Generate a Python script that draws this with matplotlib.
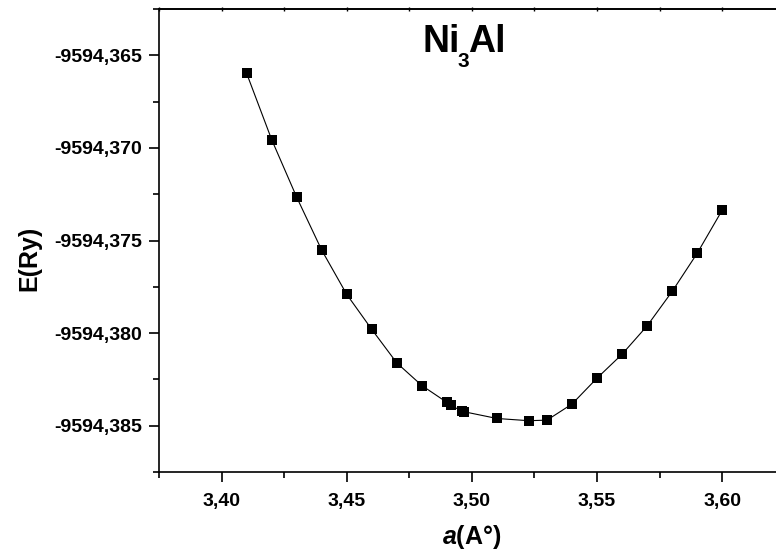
import matplotlib
matplotlib.use("Agg")
import matplotlib.pyplot as plt
from matplotlib.ticker import MultipleLocator, FuncFormatter

plt.rcParams['font.family'] = ['Liberation Sans', 'DejaVu Sans']
plt.rcParams['mathtext.fontset'] = 'custom'
plt.rcParams['mathtext.rm'] = 'Liberation Sans:bold'
plt.rcParams['mathtext.bf'] = 'Liberation Sans:bold'
plt.rcParams['mathtext.it'] = 'Liberation Sans:bold:italic'

# data
a_values = [3.41, 3.42, 3.43, 3.44, 3.45, 3.46, 3.47, 3.48, 3.49, 3.4915,
            3.4959, 3.497, 3.51, 3.5227, 3.53, 3.54, 3.55, 3.56, 3.57, 3.58,
            3.59, 3.60]
energy = [-9594.36597, -9594.36955, -9594.37266, -9594.37552, -9594.37791,
          -9594.37980, -9594.38161, -9594.38283, -9594.38374, -9594.38390,
          -9594.38420, -9594.38425, -9594.38461, -9594.38473, -9594.38470,
          -9594.38383, -9594.38243, -9594.38114, -9594.37961, -9594.37775,
          -9594.37569, -9594.37336]
x_label_text = r'$\mathit{a}$(A°)'
y_label_text = 'E(Ry)'
title_parts = ['Ni', '3', 'Al']

W, H = 776, 557
fig = plt.figure(figsize=(W / 100, H / 100), dpi=100)
left, right, top, bottom = 159, 784.8, 9, 472
ax = fig.add_axes([left / W, (H - bottom) / H, (right - left) / W, (bottom - top) / H])

ax.plot(a_values, energy, color='black', lw=0.8, marker='s', ms=6.8,
        mfc='black', mec='black', mew=0)

ax.set_xlim(3.375, 3.625)
ax.set_ylim(-9594.3875, -9594.3625)

ax.xaxis.set_major_locator(MultipleLocator(0.05))
ax.xaxis.set_minor_locator(MultipleLocator(0.025))
ax.yaxis.set_major_locator(MultipleLocator(0.005))
ax.yaxis.set_minor_locator(MultipleLocator(0.0025))
ax.xaxis.set_major_formatter(FuncFormatter(lambda v, p: f'{v:.2f}'.replace('.', ',')))
ax.yaxis.set_major_formatter(FuncFormatter(lambda v, p: f'{v:.3f}'.replace('.', ',')))

for s in ax.spines.values():
    s.set_linewidth(1.2)
ax.spines['right'].set_visible(False)

ax.tick_params(axis='both', which='major', direction='out', length=7, width=1.2,
               labelsize=14, top=False, right=False)
ax.tick_params(axis='both', which='minor', direction='out', length=4, width=1.2,
               top=False, right=False)
ax.tick_params(axis='y', which='major', pad=5)
ax.tick_params(axis='x', which='major', pad=8)
for lab in ax.get_xticklabels() + ax.get_yticklabels():
    lab.set_fontweight('bold')

sec = ax.secondary_xaxis('top')
sec.xaxis.set_major_locator(MultipleLocator(0.025))
sec.tick_params(direction='inout', length=3, width=1.0, labeltop=False)
sec.spines['top'].set_linewidth(1.2)

fig.text(472 / W, 1 - 537 / H, x_label_text, ha='center', va='center',
         fontsize=18, fontweight='bold')
fig.text(29 / W, 1 - 258 / H, y_label_text, ha='center', va='center',
         fontsize=18, fontweight='bold', rotation=90)

# title Ni3Al with a low subscript
fig.text(423 / W, 1 - 52 / H, title_parts[0], ha='left', va='baseline',
         fontsize=27, fontweight='bold')
fig.text(458 / W, 1 - 67 / H, title_parts[1], ha='left', va='baseline',
         fontsize=15, fontweight='bold')
fig.text(468 / W, 1 - 52 / H, title_parts[2], ha='left', va='baseline',
         fontsize=27, fontweight='bold')

fig.savefig('out.png', dpi=100)
